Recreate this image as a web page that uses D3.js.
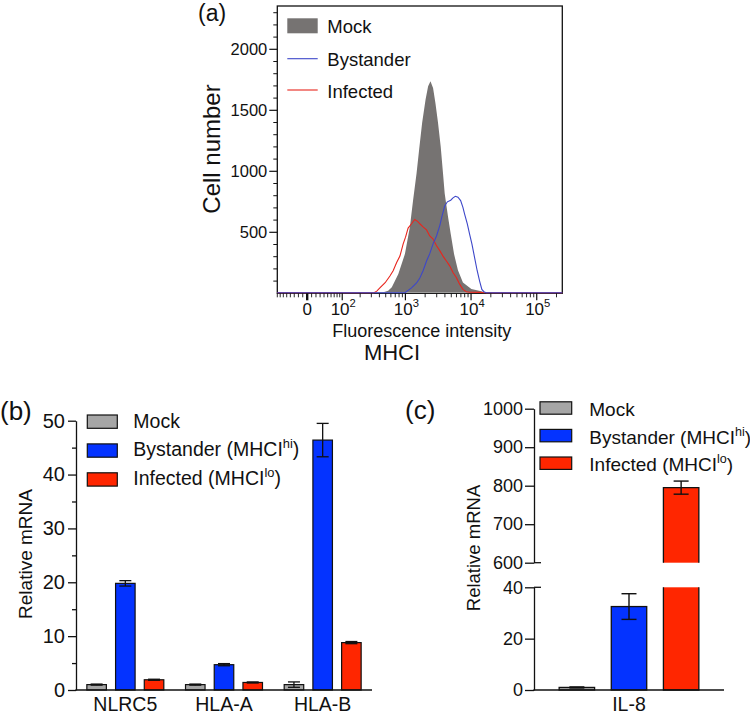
<!DOCTYPE html>
<html>
<head>
<meta charset="utf-8">
<script src="https://cdnjs.cloudflare.com/ajax/libs/d3/7.8.5/d3.min.js"></script>
<style>
  body { margin: 0; background: #fff; }
  svg { display: block; font-family: "Liberation Sans", Arial, Helvetica, sans-serif; }
</style>
</head>
<body>
<svg id="fig" width="750" height="714"></svg>
<script>
// ---- (a) flow histogram: [fluorescence, cell count] ----
const mockHist = [[-80, 0], [460, 0], [545, 13], [620, 41], [780, 150], [985, 315], [1170, 535],
  [1310, 755], [1480, 975], [1620, 1170], [1800, 1390], [2030, 1580], [2220, 1690], [2410, 1730],
  [2640, 1675], [2870, 1550], [3140, 1390], [3450, 1195], [3740, 975], [3970, 810], [4460, 620],
  [4900, 480], [5500, 315], [6320, 180], [7520, 80], [10100, 27], [14300, 8], [16000, 0], [245000, 0]];
const bystanderHist = [[-80, 0], [985, 0], [1240, 40], [1480, 80], [1660, 120], [1860, 180],
  [2100, 260], [2350, 320], [2640, 400], [2980, 465], [3340, 550], [3620, 630], [3970, 710],
  [4360, 745], [4900, 758], [5310, 777], [5770, 790], [6320, 783], [6940, 755], [7520, 700],
  [7980, 645], [8770, 565], [9500, 480], [10300, 400], [11300, 290], [12400, 180], [13500, 95],
  [14600, 27], [15700, 8], [17000, 0], [245000, 0]];
const infectedHist = [[-80, 0], [330, 0], [364, 13], [410, 41], [490, 82], [580, 137], [650, 180],
  [735, 247], [825, 300], [925, 400], [1005, 455], [1100, 530], [1240, 565], [1390, 600],
  [1530, 585], [1660, 565], [1860, 540], [2100, 515], [2350, 465], [2640, 440], [2980, 385],
  [3340, 345], [3740, 300], [4210, 260], [4730, 220], [5310, 165], [5970, 125], [6700, 70],
  [7520, 27], [8470, 8], [9500, 4], [13500, 3], [16000, 0], [245000, 0]];
const histLegend = ['Mock', 'Bystander', 'Infected'];
const histYTicks = [500, 1000, 1500, 2000];
const histXTicks = [0, 100, 1000, 10000, 100000];
const histXTickLabels = [['0', ''], ['10', '2'], ['10', '3'], ['10', '4'], ['10', '5']];

// ---- (b) qPCR ----
const genes = ['NLRC5', 'HLA-A', 'HLA-B'];
const mockMean = [1.0, 1.0, 1.0];
const mockErr = [0.1, 0.1, 0.5];
const bystanderMean = [19.8, 4.7, 46.4];
const bystanderErr = [0.5, 0.2, 3.1];
const infectedMean = [1.9, 1.4, 8.8];
const infectedErr = [0.1, 0.1, 0.2];
const barLegend = ['Mock', 'Bystander (MHCI', 'Infected (MHCI'];
const barLegendSup = ['', 'hi', 'lo'];
const bTicks = [0, 10, 20, 30, 40, 50];

// ---- (c) IL-8 ----
const il8Label = ['IL-8'];
const il8Mean = [1.0, 32.5, 795];
const il8Err = [0.2, 5.0, 17];
const cTopTicks = [600, 700, 800, 900, 1000];
const cBotTicks = [0, 20, 40];

const barColors = ['#a6a6a6', '#0433ff', '#ff2600'];
const ink = '#111';

const svg = d3.select('#fig');
svg.append('rect').attr('width', 750).attr('height', 714).attr('fill', '#fff');

function supText(g, x, y, main, sup, size, anchor, tail) {
  const t = g.append('text').attr('x', x).attr('y', y)
    .attr('font-size', size).attr('text-anchor', anchor || 'start').attr('fill', ink);
  t.append('tspan').text(main);
  if (sup) t.append('tspan').attr('dy', -size * 0.42).attr('font-size', size * 0.66).text(sup);
  if (tail) t.append('tspan').attr('dy', size * 0.42).attr('font-size', size).text(tail);
  return t;
}

// ================= (a) =================
const W = 64;
const aL = 277.3, aR = 562.3, aT = 6, aB = 293.3;
const xLin = d3.scaleLinear()
  .domain([Math.asinh(-80 / W), Math.asinh(245000 / W)])
  .range([aL, aR]);
const xA = v => xLin(Math.asinh(v / W));
const yA = d3.scaleLinear().domain([0, 2355]).range([aB, aT]);

const ga = svg.append('g');

// frame first, the histogram lines sit on top of the baseline
ga.append('rect')
  .attr('x', aL).attr('y', aT).attr('width', aR - aL).attr('height', aB - aT)
  .attr('fill', 'none').attr('stroke', ink).attr('stroke-width', 1.3);

ga.append('path')
  .datum(mockHist)
  .attr('fill', '#767372')
  .attr('d', d3.area().x(d => xA(d[0])).y0(aB - 1).y1(d => yA(d[1]) - 1));

ga.append('path')
  .datum(infectedHist)
  .attr('fill', 'none').attr('stroke', '#e8251d').attr('stroke-width', 1.1)
  .attr('d', d3.line().x(d => xA(d[0])).y(d => yA(d[1]) - 0.6));

ga.append('path')
  .datum(bystanderHist)
  .attr('fill', 'none').attr('stroke', '#3d47c9').attr('stroke-width', 1.1)
  .attr('d', d3.line().x(d => xA(d[0])).y(d => yA(d[1]) - 0.6));

// y ticks
const yMinor = d3.range(100, 2400, 100).filter(v => v % 500 !== 0);
ga.append('g').selectAll('line').data(yMinor).join('line')
  .attr('x1', aL - 4).attr('x2', aL).attr('y1', d => yA(d)).attr('y2', d => yA(d))
  .attr('stroke', ink).attr('stroke-width', 1);
ga.append('g').selectAll('line').data(histYTicks).join('line')
  .attr('x1', aL - 8).attr('x2', aL).attr('y1', d => yA(d)).attr('y2', d => yA(d))
  .attr('stroke', ink).attr('stroke-width', 1.2);
ga.append('g').selectAll('text').data(histYTicks).join('text')
  .attr('x', aL - 10).attr('y', d => yA(d) + 5.8)
  .attr('text-anchor', 'end').attr('font-size', 16.5).attr('fill', ink)
  .text(d => d);

// x ticks (logicle-like)
let xMinor = [-80, -70, -60, -50, -40, -30, -20, -10, 10];
for (let k = 1; k <= 5; k++) {
  for (let m = 2; m <= 9; m++) {
    const v = m * Math.pow(10, k);
    if (v < 245000) xMinor.push(v);
  }
}
ga.append('g').selectAll('line').data(xMinor).join('line')
  .attr('x1', d => xA(d)).attr('x2', d => xA(d)).attr('y1', aB).attr('y2', aB + 4)
  .attr('stroke', ink).attr('stroke-width', 0.9);
ga.append('g').selectAll('line').data(histXTicks).join('line')
  .attr('x1', d => xA(d)).attr('x2', d => xA(d)).attr('y1', aB).attr('y2', aB + 7)
  .attr('stroke', ink).attr('stroke-width', (d, i) => i === 0 ? 2.4 : 1.2);
histXTicks.forEach((v, i) => {
  const lab = histXTickLabels[i];
  supText(ga, xA(v) + (lab[1] ? 1 : 0), 314.5, lab[0], lab[1], 17, 'middle');
});

// legend
ga.append('rect').attr('x', 287.3).attr('y', 18.3).attr('width', 30.4).attr('height', 15)
  .attr('fill', '#767372');
ga.append('line').attr('x1', 287.3).attr('x2', 317.7).attr('y1', 58.7).attr('y2', 58.7)
  .attr('stroke', '#3d47c9').attr('stroke-width', 1.1);
ga.append('line').attr('x1', 287.3).attr('x2', 317.7).attr('y1', 90).attr('y2', 90)
  .attr('stroke', '#e8251d').attr('stroke-width', 1.1);
histLegend.forEach((s, i) => {
  ga.append('text').attr('x', 327.3).attr('y', 33.3 + i * 32.3)
    .attr('font-size', 18.5).attr('fill', ink).text(s);
});

ga.append('text').attr('x', 198).attr('y', 21).attr('font-size', 23).attr('fill', ink).text('(a)');
ga.append('text').attr('transform', 'translate(219.5,149) rotate(-90)')
  .attr('text-anchor', 'middle').attr('font-size', 24).attr('fill', ink).text('Cell number');
ga.append('text').attr('x', 421.7).attr('y', 336.7).attr('text-anchor', 'middle')
  .attr('font-size', 18).attr('fill', ink).text('Fluorescence intensity');
ga.append('text').attr('x', 392).attr('y', 360).attr('text-anchor', 'middle')
  .attr('font-size', 22).attr('fill', ink).text('MHCI');

// ================= (b) =================
const gb = svg.append('g');
const bL = 76, bR = 372;
const yB = d3.scaleLinear().domain([0, 50]).range([690, 420.7]);
const xB = d3.scaleBand().domain(genes).range([bL, bR]).paddingInner(0.22).paddingOuter(0.11);
const xBi = d3.scaleBand().domain([0, 1, 2]).range([0, xB.bandwidth()]).paddingInner(0.32);

const bMeans = [mockMean, bystanderMean, infectedMean];
const bErrs = [mockErr, bystanderErr, infectedErr];
const bBars = [];
genes.forEach((g, gi) => {
  bMeans.forEach((m, si) => bBars.push({gene: g, s: si, v: m[gi], e: bErrs[si][gi]}));
});

gb.append('g').selectAll('rect').data(bBars).join('rect')
  .attr('x', d => xB(d.gene) + xBi(d.s))
  .attr('y', d => yB(d.v))
  .attr('width', xBi.bandwidth())
  .attr('height', d => yB(0) - yB(d.v))
  .attr('fill', d => barColors[d.s])
  .attr('stroke', ink).attr('stroke-width', 1.2);

const bErrG = gb.append('g').attr('stroke', ink).attr('stroke-width', 1.3);
bBars.forEach(d => {
  const cx = xB(d.gene) + xBi(d.s) + xBi.bandwidth() / 2;
  bErrG.append('line').attr('x1', cx).attr('x2', cx).attr('y1', yB(d.v - d.e)).attr('y2', yB(d.v + d.e));
  [d.v - d.e, d.v + d.e].forEach(v => {
    bErrG.append('line').attr('x1', cx - 6).attr('x2', cx + 6).attr('y1', yB(v)).attr('y2', yB(v));
  });
});

const bAxis = gb.append('g').attr('transform', `translate(${bL},0)`)
  .call(d3.axisLeft(yB).tickValues(bTicks).tickSize(8).tickSizeOuter(0).tickPadding(3));
gb.append('g').attr('transform', `translate(${bL},0)`)
  .call(d3.axisLeft(yB).tickValues([5, 15, 25, 35, 45]).tickSize(4).tickSizeOuter(0).tickFormat(''))
  .call(g => g.select('.domain').remove());
bAxis.selectAll('text').attr('font-size', 20).attr('font-family', null).attr('fill', ink);
gb.selectAll('.domain, .tick line').attr('stroke', ink).attr('stroke-width', 1.3);

gb.append('line').attr('x1', bL - 0.6).attr('x2', bR).attr('y1', yB(0)).attr('y2', yB(0))
  .attr('stroke', ink).attr('stroke-width', 1.3);
gb.append('g').selectAll('text').data(genes).join('text')
  .attr('x', d => xB(d) + xB.bandwidth() / 2).attr('y', 711)
  .attr('text-anchor', 'middle').attr('font-size', 19.5).attr('fill', ink).text(d => d);

barLegend.forEach((s, i) => {
  gb.append('rect').attr('x', 87.3).attr('y', 415 + i * 28.9).attr('width', 30).attr('height', 13.3)
    .attr('fill', barColors[i]).attr('stroke', ink).attr('stroke-width', 1.2);
  supText(gb, 133.3, 427.5 + i * 28.9, s, barLegendSup[i], 19.5, 'start', barLegendSup[i] ? ')' : '');
});

gb.append('text').attr('x', 0).attr('y', 420).attr('font-size', 26).attr('fill', ink).text('(b)');
gb.append('text').attr('transform', 'translate(31.5,554) rotate(-90)')
  .attr('text-anchor', 'middle').attr('font-size', 19).attr('fill', ink).text('Relative mRNA');

// ================= (c) =================
const gc = svg.append('g');
const cL = 534, cR = 724;
const yCtop = d3.scaleLinear().domain([600, 1000]).range([562.7, 408.7]);
const yCbot = d3.scaleLinear().domain([0, 40]).range([690, 587.3]);
const xC = d3.scaleBand().domain(il8Label).range([cL, cR]).paddingOuter(0.18);
const xCi = d3.scaleBand().domain([0, 1, 2]).range([0, xC.bandwidth()]).paddingInner(0.32);

const cY = v => v <= 40 ? yCbot(v) : yCtop(v);
il8Mean.forEach((v, i) => {
  const x0 = xC('IL-8') + xCi(i), x1 = x0 + xCi.bandwidth();
  const lowTop = yCbot(Math.min(v, 40));
  gc.append('rect').attr('x', x0).attr('y', lowTop).attr('width', x1 - x0).attr('height', yCbot(0) - lowTop)
    .attr('fill', barColors[i]);
  if (v <= 40) {
    gc.append('rect').attr('x', x0).attr('y', lowTop).attr('width', x1 - x0).attr('height', yCbot(0) - lowTop)
      .attr('fill', 'none').attr('stroke', ink).attr('stroke-width', 1.3);
  } else {
    gc.append('path').attr('d', `M${x0},${lowTop}V${yCbot(0)}H${x1}V${lowTop}`)
      .attr('fill', 'none').attr('stroke', ink).attr('stroke-width', 1.3);
    const upTop = yCtop(v);
    gc.append('rect').attr('x', x0).attr('y', upTop).attr('width', x1 - x0).attr('height', yCtop(600) - upTop)
      .attr('fill', barColors[i]);
    gc.append('path').attr('d', `M${x0},${yCtop(600)}V${upTop}H${x1}V${yCtop(600)}`)
      .attr('fill', 'none').attr('stroke', ink).attr('stroke-width', 1.3);
  }
  const cx = (x0 + x1) / 2, e = il8Err[i];
  const eg = gc.append('g').attr('stroke', ink).attr('stroke-width', 1.4);
  eg.append('line').attr('x1', cx).attr('x2', cx).attr('y1', cY(v - e)).attr('y2', cY(v + e));
  [v - e, v + e].forEach(t => {
    eg.append('line').attr('x1', cx - 7.5).attr('x2', cx + 7.5).attr('y1', cY(t)).attr('y2', cY(t));
  });
});

gc.append('g').attr('transform', `translate(${cL},0)`)
  .call(d3.axisLeft(yCtop).tickValues(cTopTicks).tickSize(9).tickSizeOuter(0).tickPadding(2)
    .tickFormat(d3.format('d')));
gc.append('g').attr('transform', `translate(${cL},0)`)
  .call(d3.axisLeft(yCbot).tickValues(cBotTicks).tickSize(9).tickSizeOuter(0).tickPadding(2)
    .tickFormat(d3.format('d')));
gc.selectAll('.tick text').attr('font-size', 18).attr('font-family', null).attr('fill', ink);
gc.selectAll('.domain, .tick line').attr('stroke', ink).attr('stroke-width', 1.3);
// break ticks cross the axis
[yCtop(600), yCbot(40)].forEach(y => {
  gc.append('line').attr('x1', cL).attr('x2', cL + 7).attr('y1', y).attr('y2', y)
    .attr('stroke', ink).attr('stroke-width', 1.3);
});

gc.append('line').attr('x1', cL - 0.6).attr('x2', cR).attr('y1', yCbot(0)).attr('y2', yCbot(0))
  .attr('stroke', ink).attr('stroke-width', 1.3);
gc.append('text').attr('x', xC('IL-8') + xC.bandwidth() / 2).attr('y', 711)
  .attr('text-anchor', 'middle').attr('font-size', 19.5).attr('fill', ink).text('IL-8');

barLegend.forEach((s, i) => {
  gc.append('rect').attr('x', 540).attr('y', 401.8 + i * 27.6).attr('width', 31.7).attr('height', 12.4)
    .attr('fill', barColors[i]).attr('stroke', ink).attr('stroke-width', 1.2);
  supText(gc, 589.3, 416 + i * 27.6, s, barLegendSup[i], 19, 'start', barLegendSup[i] ? ')' : '');
});

gc.append('text').attr('x', 405).attr('y', 419).attr('font-size', 26).attr('fill', ink).text('(c)');
gc.append('text').attr('transform', 'translate(480,548) rotate(-90)')
  .attr('text-anchor', 'middle').attr('font-size', 18.5).attr('fill', ink).text('Relative mRNA');
</script>
</body>
</html>
